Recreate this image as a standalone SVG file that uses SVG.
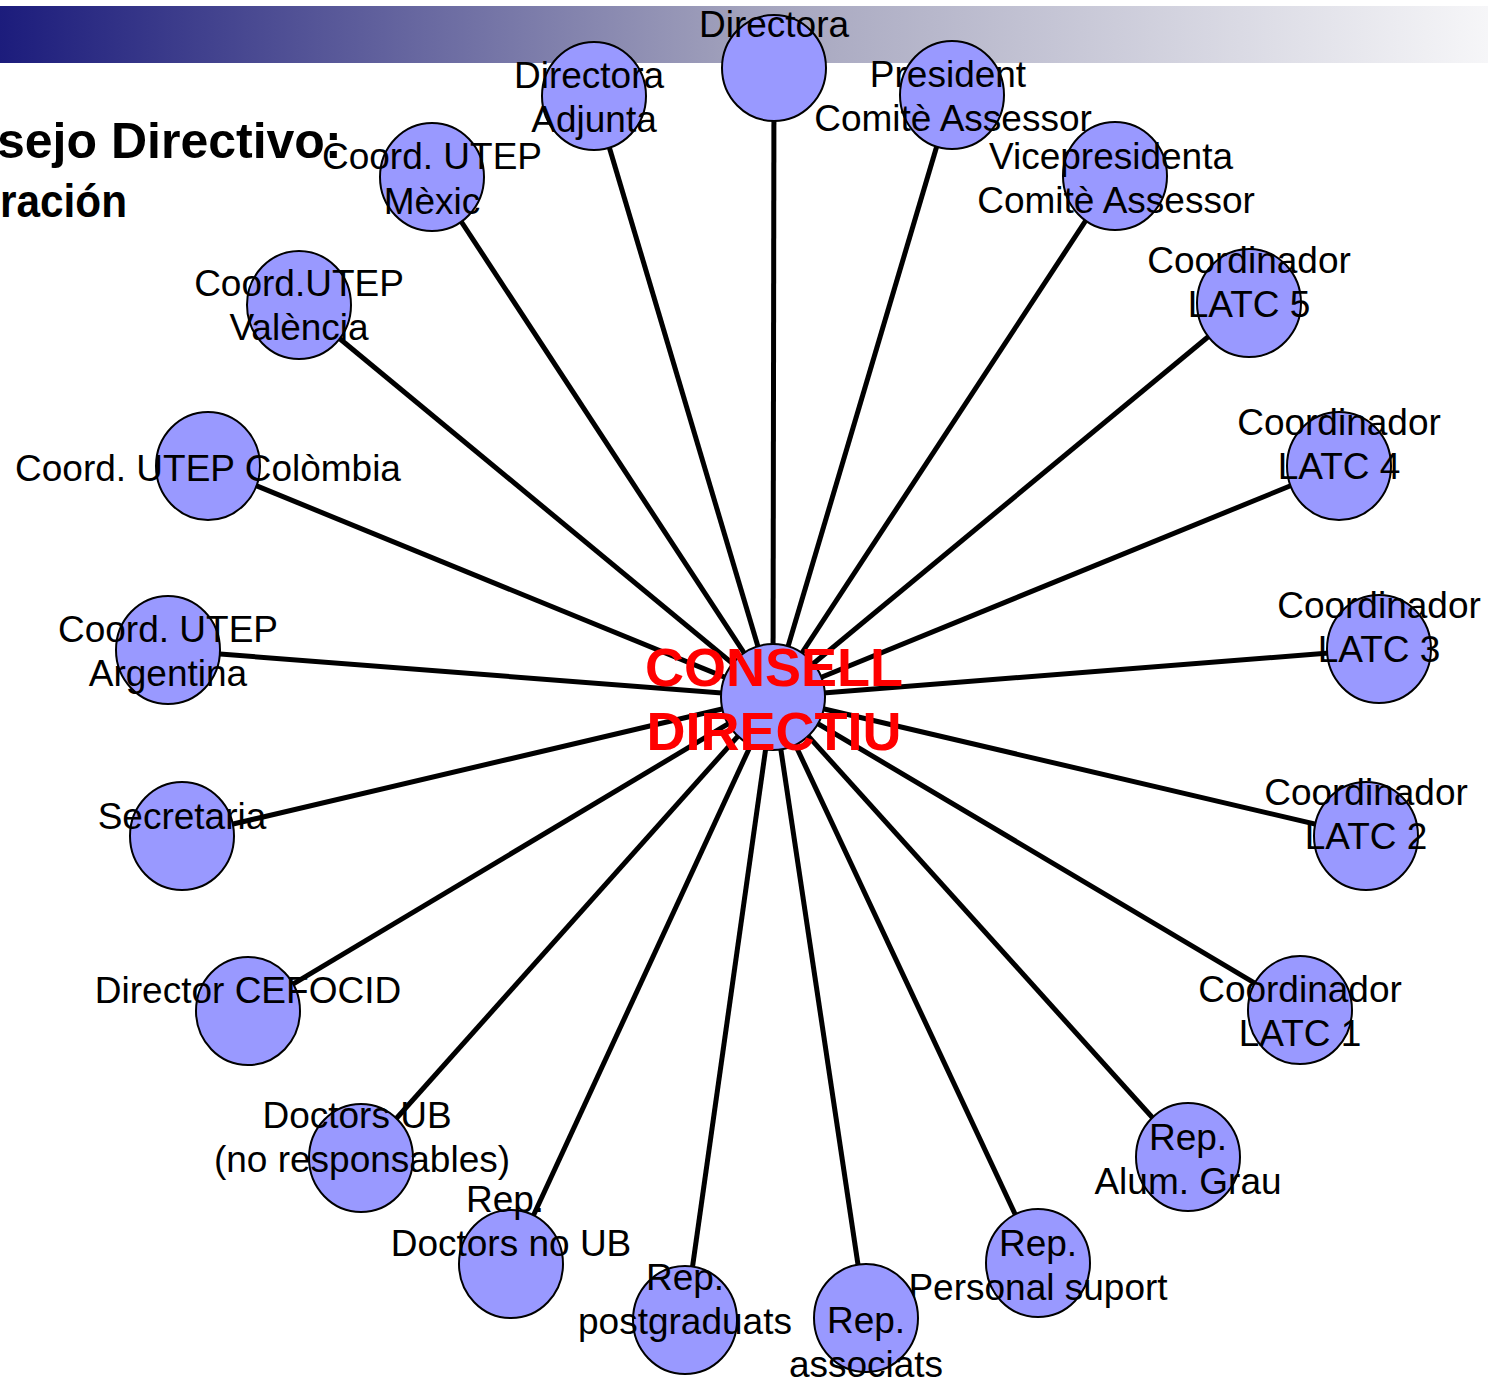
<svg xmlns="http://www.w3.org/2000/svg" width="1488" height="1381" viewBox="0 0 1488 1381">
<defs>
<linearGradient id="bg" x1="0" y1="0" x2="1" y2="0">
<stop offset="0" stop-color="#1c1c7c"/>
<stop offset="0.5" stop-color="#a2a2bc"/>
<stop offset="1" stop-color="#f6f6f8"/>
</linearGradient>
<style>
.n{fill:#9999ff;stroke:#000;stroke-width:2}
.t{font-family:"Liberation Sans",Arial,sans-serif;font-size:37px;fill:#000;text-anchor:middle}
.c line{stroke:#000;stroke-width:5}
.title{font-family:"Liberation Sans",Arial,sans-serif;font-size:50px;font-weight:bold;fill:#000}
.ct{font-family:"Liberation Sans",Arial,sans-serif;font-size:54px;font-weight:bold;fill:#ff0000;text-anchor:middle}
</style>
</defs>
<rect x="0" y="0" width="1488" height="1381" fill="#fff"/>
<rect x="0" y="6" width="1488" height="57" fill="url(#bg)"/>
<text class="title" x="-3" y="158">sejo Directivo:</text>
<text class="title" x="0" y="217" style="font-size:46px" textLength="127" lengthAdjust="spacingAndGlyphs">ración</text>
<g class="c">
<line x1="773" y1="697" x2="774" y2="68"/>
<line x1="773" y1="697" x2="594" y2="96"/>
<line x1="773" y1="697" x2="952" y2="95"/>
<line x1="773" y1="697" x2="1115" y2="176"/>
<line x1="773" y1="697" x2="1249" y2="303"/>
<line x1="773" y1="697" x2="1339" y2="466"/>
<line x1="773" y1="697" x2="1379" y2="649"/>
<line x1="773" y1="697" x2="1366" y2="836"/>
<line x1="773" y1="697" x2="1300" y2="1010"/>
<line x1="773" y1="697" x2="1188" y2="1157"/>
<line x1="773" y1="697" x2="1038" y2="1263"/>
<line x1="773" y1="697" x2="866" y2="1318"/>
<line x1="773" y1="697" x2="685" y2="1320"/>
<line x1="773" y1="697" x2="511" y2="1264"/>
<line x1="773" y1="697" x2="361" y2="1158"/>
<line x1="773" y1="697" x2="248" y2="1011"/>
<line x1="773" y1="697" x2="182" y2="836"/>
<line x1="773" y1="697" x2="168" y2="650"/>
<line x1="773" y1="697" x2="208" y2="466"/>
<line x1="773" y1="697" x2="299" y2="305"/>
<line x1="773" y1="697" x2="432" y2="177"/>
</g>
<g id="n-directora"><ellipse class="n" cx="774" cy="68" rx="52" ry="53"/><text class="t" x="774" y="37">Directora</text></g>
<g id="n-adjunta"><ellipse class="n" cx="594" cy="96" rx="52" ry="54"/><text class="t" x="589" y="88">Directora</text><text class="t" x="594" y="132">Adjunta</text></g>
<g id="n-president"><ellipse class="n" cx="952" cy="95" rx="52" ry="54"/><text class="t" x="948" y="87">President</text><text class="t" x="953" y="131">Comitè Assessor</text></g>
<g id="n-vice"><ellipse class="n" cx="1115" cy="176" rx="52" ry="54"/><text class="t" x="1111" y="169">Vicepresidenta</text><text class="t" x="1116" y="213">Comitè Assessor</text></g>
<g id="n-latc5"><ellipse class="n" cx="1249" cy="303" rx="52" ry="54"/><text class="t" x="1249" y="273">Coordinador</text><text class="t" x="1249" y="317">LATC 5</text></g>
<g id="n-latc4"><ellipse class="n" cx="1339" cy="466" rx="52" ry="54"/><text class="t" x="1339" y="435">Coordinador</text><text class="t" x="1339" y="479">LATC 4</text></g>
<g id="n-latc3"><ellipse class="n" cx="1379" cy="649" rx="52" ry="54"/><text class="t" x="1379" y="618">Coordinador</text><text class="t" x="1379" y="662">LATC 3</text></g>
<g id="n-latc2"><ellipse class="n" cx="1366" cy="836" rx="52" ry="54"/><text class="t" x="1366" y="805">Coordinador</text><text class="t" x="1366" y="849">LATC 2</text></g>
<g id="n-latc1"><ellipse class="n" cx="1300" cy="1010" rx="52" ry="54"/><text class="t" x="1300" y="1002">Coordinador</text><text class="t" x="1300" y="1046">LATC 1</text></g>
<g id="n-grau"><ellipse class="n" cx="1188" cy="1157" rx="52" ry="54"/><text class="t" x="1188" y="1150">Rep.</text><text class="t" x="1188" y="1194">Alum. Grau</text></g>
<g id="n-suport"><ellipse class="n" cx="1038" cy="1263" rx="52" ry="54"/><text class="t" x="1038" y="1256">Rep.</text><text class="t" x="1038" y="1300">Personal suport</text></g>
<g id="n-associats"><ellipse class="n" cx="866" cy="1318" rx="52" ry="54"/><text class="t" x="866" y="1333">Rep.</text><text class="t" x="866" y="1377">associats</text></g>
<g id="n-postgrau"><ellipse class="n" cx="685" cy="1320" rx="52" ry="54"/><text class="t" x="685" y="1290">Rep.</text><text class="t" x="685" y="1334">postgraduats</text></g>
<g id="n-docnoub"><ellipse class="n" cx="511" cy="1264" rx="52" ry="54"/><text class="t" x="505" y="1212">Rep.</text><text class="t" x="511" y="1256">Doctors no UB</text></g>
<g id="n-docub"><ellipse class="n" cx="361" cy="1158" rx="52" ry="54"/><text class="t" x="357" y="1128">Doctors UB</text><text class="t" x="362" y="1172">(no responsables)</text></g>
<g id="n-cefocid"><ellipse class="n" cx="248" cy="1011" rx="52" ry="54"/><text class="t" x="248" y="1003">Director CEFOCID</text></g>
<g id="n-secretaria"><ellipse class="n" cx="182" cy="836" rx="52" ry="54"/><text class="t" x="182" y="829">Secretaria</text></g>
<g id="n-argentina"><ellipse class="n" cx="168" cy="650" rx="52" ry="54"/><text class="t" x="168" y="642">Coord. UTEP</text><text class="t" x="168" y="686">Argentina</text></g>
<g id="n-colombia"><ellipse class="n" cx="208" cy="466" rx="52" ry="54"/><text class="t" x="208" y="481">Coord. UTEP Colòmbia</text></g>
<g id="n-valencia"><ellipse class="n" cx="299" cy="305" rx="52" ry="54"/><text class="t" x="299" y="296">Coord.UTEP</text><text class="t" x="299" y="340">València</text></g>
<g id="n-mexic"><ellipse class="n" cx="432" cy="177" rx="52" ry="54"/><text class="t" x="432" y="169">Coord. UTEP</text><text class="t" x="432" y="214">Mèxic</text></g>
<g id="n-consell"><ellipse class="n" cx="773" cy="697" rx="52" ry="53"/><text class="ct" x="774" y="686">CONSELL</text><text class="ct" x="774" y="750">DIRECTIU</text></g>
</svg>
